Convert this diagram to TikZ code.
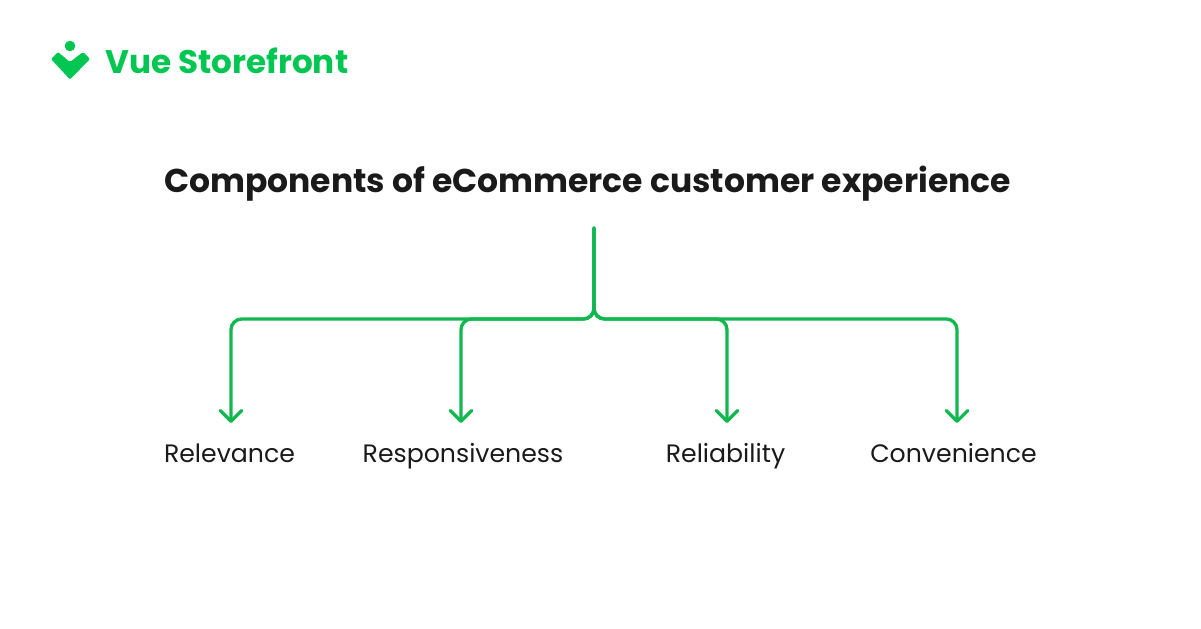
\documentclass[tikz,border=0pt]{standalone}
\usepackage{fontspec}
\setmainfont{Poppins}
\usepackage{xcolor}
\usetikzlibrary{positioning, arrows.meta, calc}
\definecolor{logogreen}{HTML}{02C652}
\definecolor{treegreen}{HTML}{12B84F}
\definecolor{titleblack}{HTML}{1A1A1A}

\begin{document}
\begin{tikzpicture}[x=0.75pt, y=-0.75pt]
	\tikzset{arrow/.style={-{Straight Barb[round, length=8pt, width=16pt]}, treegreen, line width=2.5pt, line cap=round, rounded corners=8pt}}
	\tikzset{itemlabel/.style={titleblack, anchor=base, inner sep=0pt, font=\fontsize{18.9}{24}\selectfont}}

	\useasboundingbox (0,0) rectangle (1201,628);

	% Logo
	\fill [logogreen] (70,46) circle (5.3);
	\fill [logogreen, rounded corners=1pt] (51,59) -- (58,52) -- (70,62) -- (83,52) -- (90,59) -- (70,79.5) -- cycle;
	\node (logo) [logogreen, anchor=base west, inner sep=0pt, font=\fontsize{24.5}{28}\selectfont\bfseries] at (105,73) {Vue Storefront};

	% Title
	\node (title) [titleblack, anchor=base, inner sep=0pt, font=\fontsize{24.75}{30}\selectfont\bfseries] at (587.5,192) {Components of eCommerce customer experience};

	% Items
	\node (relevance) [itemlabel] at (229.5,462) {Relevance};
	\node (responsiveness) [itemlabel] at (463,462) {Responsiveness};
	\node (reliability) [itemlabel] at (725.5,462) {Reliability};
	\node (convenience) [itemlabel] at (953.5,462) {Convenience};

	% Tree
	\coordinate (stem) at (594,228);
	\coordinate (bar) at (594,319);
	\coordinate (tip0) at (231,423);
	\coordinate (tip1) at (461,423);
	\coordinate (tip2) at (727,423);
	\coordinate (tip3) at (957,423);
	\draw [arrow] (stem) -- (bar) -| (tip0);
	\draw [arrow] (stem) -- (bar) -| (tip1);
	\draw [arrow] (stem) -- (bar) -| (tip2);
	\draw [arrow] (stem) -- (bar) -| (tip3);
\end{tikzpicture}
\end{document}
